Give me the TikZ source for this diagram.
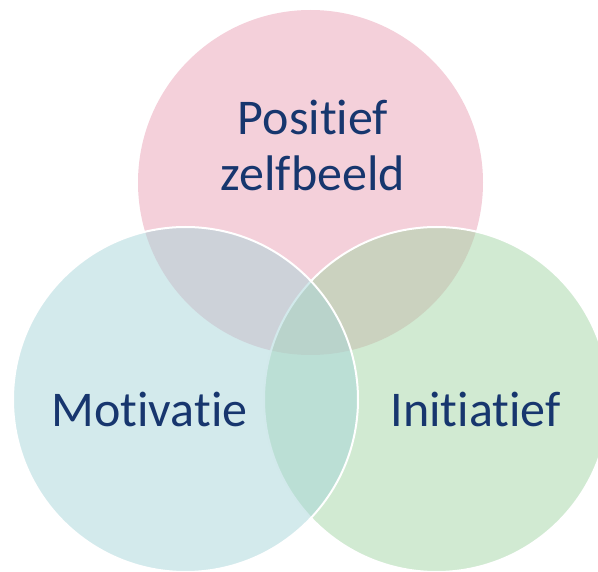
\documentclass[tikz,border=0pt]{standalone}
\usepackage{fontspec}
\setmainfont{Carlito}[Ligatures={NoCommon,NoRequired,NoContextual}]
\definecolor{pinkc}{RGB}{233,161,181}
\definecolor{bluec}{RGB}{167,213,217}
\definecolor{greenc}{RGB}{163,213,165}
\definecolor{navyc}{RGB}{23,54,110}
\begin{document}
\begin{tikzpicture}[x=1pt,y=-1pt,
  venn/.style={fill opacity=0.5, draw=white, line width=2pt},
  lbl/.style={text=navyc, font=\fontsize{50}{56}\selectfont, inner sep=0pt}]
\useasboundingbox (0,0) rectangle (598,572);
\begin{scope}
\clip (0,0) rectangle (598,572);
\fill[pinkc, fill opacity=0.5] (310.5,182.5) circle[radius=172.5pt];
\filldraw[venn, fill=greenc] (436.5,399.5) circle[radius=172.5pt];
\filldraw[venn, fill=bluec] (185.5,399.5) circle[radius=172.5pt];
\end{scope}
\node[lbl, align=center, anchor=base] (pos) at (313,191) {Positief\\zelfbeeld};
\node[lbl, anchor=base] (mot) at (149.5,427) {Motivatie};
\node[lbl, anchor=base] (ini) at (475.5,427) {Initiatief};
\end{tikzpicture}
\end{document}
